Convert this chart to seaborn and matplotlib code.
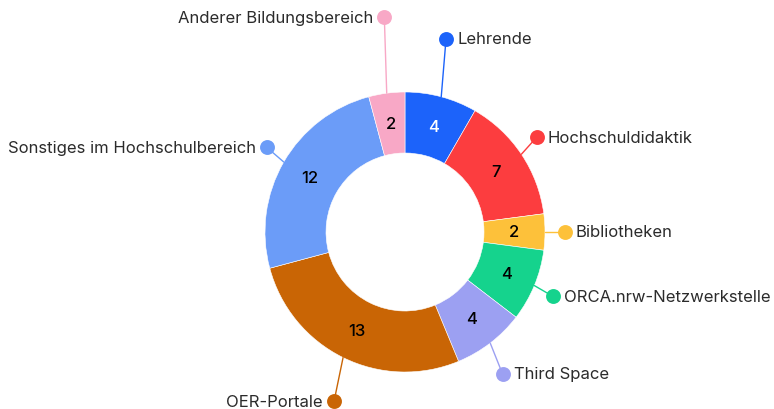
import numpy as np
import matplotlib.pyplot as plt
import seaborn as sns

# data
labels = ["Lehrende", "Hochschuldidaktik", "Bibliotheken", "ORCA.nrw-Netzwerkstelle",
          "Third Space", "OER-Portale", "Sonstiges im Hochschulbereich", "Anderer Bildungsbereich"]
values = [4, 7, 2, 4, 4, 13, 12, 2]
colors = ["#1c63fa", "#fc3d3f", "#fdc13a", "#15d38d", "#9ca0f2", "#c96505", "#6b9cf8", "#f8a8c6"]
value_colors = ["white", "black", "black", "black", "black", "black", "black", "black"]

# callout layout: length (in outer radii) and angle nudge (deg)
callout = [1.41, 1.16, 1.14, 1.15, 1.23, 1.31, 1.16, 1.54]
nudge = [3, 2, 0, -1, -3, 3.5, -1.5, -2]

sns.set_theme(style="white")
plt.rcParams["font.family"] = ["Inter", "DejaVu Sans"]

fig = plt.figure(figsize=(7.74, 4.10), dpi=100)
ax = fig.add_axes([0, 0, 1, 1])

cx, cy, r_out, ring = 405, 177, 140, 61
palette = sns.color_palette(colors)

wedges, _ = ax.pie(values, colors=palette, startangle=90, counterclock=False,
                   center=(cx, cy), radius=r_out,
                   wedgeprops=dict(width=ring, linewidth=0.4, edgecolor="white"))

for w, lab, val, vc, k, dn in zip(wedges, labels, values, value_colors, callout, nudge):
    mid = (w.theta1 + w.theta2) / 2
    ang = np.deg2rad(mid)
    ca, sa = np.cos(ang), np.sin(ang)
    col = w.get_facecolor()
    # value inside the ring
    rm = r_out - ring / 2
    ax.text(cx + rm * ca, cy + rm * sa, str(val), ha="center", va="center",
            fontsize=12, fontweight="medium", color=vc)
    # connector + dot
    a2 = np.deg2rad(mid + dn)
    x0, y0 = cx + r_out * ca, cy + r_out * sa
    x1, y1 = cx + r_out * k * np.cos(a2), cy + r_out * k * np.sin(a2)
    ax.plot([x0, x1], [y0, y1], color=col, lw=1, zorder=1)
    ax.scatter([x1], [y1], s=115, color=col, zorder=3, linewidths=0)
    if ca >= 0:
        ax.text(x1 + 11, y1, lab, ha="left", va="center", fontsize=12, color="#2b2b2b")
    else:
        ax.text(x1 - 11, y1, lab, ha="right", va="center", fontsize=12, color="#2b2b2b")

ax.set_xlim(0, 774)
ax.set_ylim(0, 410)
ax.set_aspect("equal")
ax.axis("off")

fig.savefig("out.png", dpi=100)
